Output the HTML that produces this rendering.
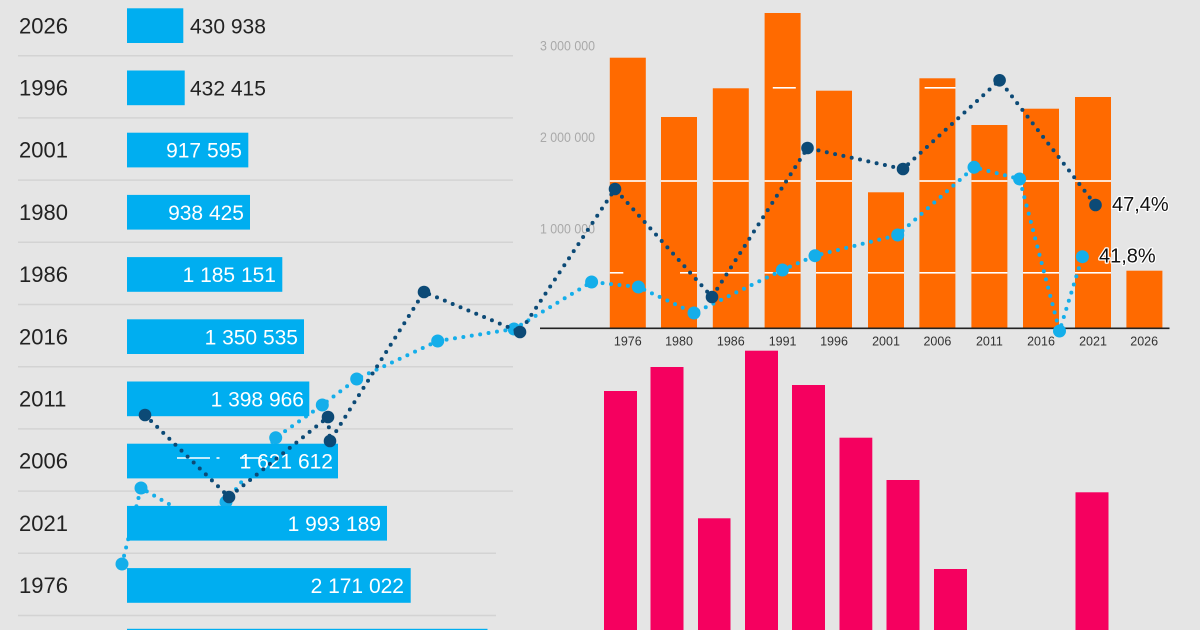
<!DOCTYPE html>
<html>
<head>
<meta charset="utf-8">
<style>
  html,body{margin:0;padding:0;background:#e5e5e5;width:1200px;height:630px;overflow:hidden;}
  svg{display:block;}
  text{font-family:"Liberation Sans", sans-serif;}
</style>
</head>
<body>
<svg width="1200" height="630" viewBox="0 0 1200 630" xmlns="http://www.w3.org/2000/svg">
  <rect x="0" y="0" width="1200" height="630" fill="#e5e5e5"/>

  <!-- left chart separators -->
  <g stroke="#d3d3d3" stroke-width="1.5">
    <line x1="18" y1="55.7" x2="513" y2="55.7"/>
    <line x1="18" y1="117.9" x2="513" y2="117.9"/>
    <line x1="18" y1="180.1" x2="513" y2="180.1"/>
    <line x1="18" y1="242.3" x2="513" y2="242.3"/>
    <line x1="18" y1="304.5" x2="513" y2="304.5"/>
    <line x1="18" y1="366.7" x2="513" y2="366.7"/>
    <line x1="18" y1="428.9" x2="513" y2="428.9"/>
    <line x1="18" y1="491.1" x2="513" y2="491.1"/>
    <line x1="18" y1="553.3" x2="496" y2="553.3"/>
    <line x1="18" y1="615.5" x2="496" y2="615.5"/>
  </g>

  <!-- orange bars -->
  <g fill="#ff6a00">
    <rect x="609.8" y="57.7" width="36" height="270.6"/>
    <rect x="661" y="117" width="36" height="211.3"/>
    <rect x="712.8" y="88.3" width="36" height="240"/>
    <rect x="764.6" y="13" width="36" height="315.3"/>
    <rect x="816" y="90.7" width="36" height="237.6"/>
    <rect x="868" y="192.3" width="36" height="136"/>
    <rect x="919.4" y="78.3" width="36" height="250"/>
    <rect x="971.4" y="125" width="36" height="203.3"/>
    <rect x="1023" y="108.7" width="36" height="219.6"/>
    <rect x="1075" y="97" width="36" height="231.3"/>
    <rect x="1126.4" y="270.7" width="36" height="57.6"/>
  </g>
  <!-- white gridline pieces over bars -->
  <g fill="#ffffff">
    <rect x="609.8" y="180.2" width="36" height="1.6"/>
    <rect x="661" y="180.2" width="36" height="1.6"/>
    <rect x="712.8" y="180.2" width="36" height="1.6"/>
    <rect x="764.6" y="180.2" width="36" height="1.6"/>
    <rect x="816" y="180.2" width="36" height="1.6"/>
    <rect x="919.4" y="180.2" width="36" height="1.6"/>
    <rect x="971.4" y="180.2" width="36" height="1.6"/>
    <rect x="1023" y="180.2" width="36" height="1.6"/>
    <rect x="1075" y="180.2" width="36" height="1.6"/>

    <rect x="609.8" y="272" width="13.5" height="1.6"/>
    <rect x="680" y="272" width="17" height="1.6"/>
    <rect x="712.8" y="272" width="36" height="1.6"/>
    <rect x="764.6" y="272" width="36" height="1.6"/>
    <rect x="816" y="272" width="36" height="1.6"/>
    <rect x="868" y="272" width="36" height="1.6"/>
    <rect x="919.4" y="272" width="36" height="1.6"/>
    <rect x="971.4" y="272" width="36" height="1.6"/>
    <rect x="1023" y="272" width="36" height="1.6"/>
    <rect x="1075" y="272" width="36" height="1.6"/>

    <rect x="772.8" y="87" width="23" height="1.6"/>
    <rect x="924.6" y="87" width="31" height="1.6"/>
  </g>

  <!-- axis -->
  <line x1="540" y1="328.3" x2="1169.5" y2="328.3" stroke="#222" stroke-width="1.6"/>

  <!-- y tick labels -->
  <g fill="#a9a9a9" font-size="14">
    <text x="540" y="50.7" textLength="55" lengthAdjust="spacingAndGlyphs">3 000 000</text>
    <text x="540" y="142" textLength="55" lengthAdjust="spacingAndGlyphs">2 000 000</text>
    <text x="540" y="233.3" textLength="55" lengthAdjust="spacingAndGlyphs">1 000 000</text>
  </g>

  <!-- x tick labels -->
  <g fill="#333" font-size="12.5" text-anchor="middle">
    <text x="627.8" y="345.5">1976</text>
    <text x="679" y="345.5">1980</text>
    <text x="730.8" y="345.5">1986</text>
    <text x="782.6" y="345.5">1991</text>
    <text x="834" y="345.5">1996</text>
    <text x="886" y="345.5">2001</text>
    <text x="937.4" y="345.5">2006</text>
    <text x="989.4" y="345.5">2011</text>
    <text x="1041" y="345.5">2016</text>
    <text x="1093" y="345.5">2021</text>
    <text x="1144.2" y="345.5">2026</text>
  </g>

  <!-- pink bars -->
  <g fill="#f5005f">
    <rect x="604" y="391" width="33" height="239"/>
    <rect x="650.5" y="367" width="33" height="263"/>
    <rect x="698" y="518.3" width="32.5" height="111.7"/>
    <rect x="745" y="350.7" width="33" height="279.3"/>
    <rect x="792" y="385" width="33" height="245"/>
    <rect x="839.5" y="437.7" width="32.8" height="192.3"/>
    <rect x="886.5" y="480" width="33" height="150"/>
    <rect x="934" y="569" width="33" height="61"/>
    <rect x="1075.5" y="492.3" width="33" height="137.7"/>
  </g>

  <!-- light blue line (behind blue bars) -->
  <polyline fill="none" stroke="#14aeea" stroke-width="4" stroke-linecap="round" stroke-linejoin="round" stroke-dasharray="0 8.5"
    points="122,564 141,488 200,522 226,502 275.7,437.7 322.3,405 356.7,379 437.7,341 514,329 591.6,282 638.4,287 694,313 782.4,270 815,255.7 897.7,235 974,167.3 1019.6,179 1059.5,331 1082.4,256.7"/>
  <g fill="#14aeea">
    <circle cx="122" cy="564" r="6.5"/>
    <circle cx="141" cy="488" r="6.5"/>
    <circle cx="226" cy="502" r="6.5"/>
    <circle cx="275.7" cy="437.7" r="6.5"/>
    <circle cx="322.3" cy="405" r="6.5"/>
    <circle cx="356.7" cy="379" r="6.5"/>
    <circle cx="437.7" cy="341" r="6.5"/>
    <circle cx="514" cy="329" r="6.5"/>
    <circle cx="591.6" cy="282" r="6.5"/>
    <circle cx="638.4" cy="287" r="6.5"/>
    <circle cx="694" cy="313" r="6.5"/>
    <circle cx="782.4" cy="270" r="6.5"/>
    <circle cx="815" cy="255.7" r="6.5"/>
    <circle cx="897.7" cy="235" r="6.5"/>
    <circle cx="974" cy="167.3" r="6.5"/>
    <circle cx="1019.6" cy="179" r="6.5"/>
    <circle cx="1059.5" cy="331" r="6.5"/>
    <circle cx="1082.4" cy="256.7" r="6.5"/>
  </g>

  <!-- left blue bars -->
  <g fill="#00aef0">
    <rect x="127" y="8.3" width="56.3" height="34.7"/>
    <rect x="127" y="70.5" width="57.7" height="34.7"/>
    <rect x="127" y="132.7" width="121.3" height="34.7"/>
    <rect x="127" y="194.9" width="123" height="34.7"/>
    <rect x="127" y="257.1" width="155.3" height="34.7"/>
    <rect x="127" y="319.3" width="177" height="34.7"/>
    <rect x="127" y="381.5" width="182.3" height="34.7"/>
    <rect x="127" y="443.7" width="211" height="34.7"/>
    <rect x="127" y="505.9" width="260" height="34.7"/>
    <rect x="127" y="568.1" width="283.7" height="34.7"/>
    <rect x="127" y="628.8" width="360.5" height="1.2"/>
  </g>

  <!-- year labels -->
  <g fill="#222" font-size="22">
    <text x="19" y="33.3">2026</text>
    <text x="19" y="95.5">1996</text>
    <text x="19" y="157.7">2001</text>
    <text x="19" y="219.9">1980</text>
    <text x="19" y="282.1">1986</text>
    <text x="19" y="344.3">2016</text>
    <text x="19" y="406.5">2011</text>
    <text x="19" y="468.7">2006</text>
    <text x="19" y="530.9">2021</text>
    <text x="19" y="593.1">1976</text>
  </g>

  <!-- value labels -->
  <g font-size="21">
    <text x="190" y="33.3" fill="#222">430 938</text>
    <text x="190" y="95.5" fill="#222">432 415</text>
    <g fill="#ffffff" text-anchor="end">
      <text x="242" y="157.7">917 595</text>
      <text x="244" y="219.9">938 425</text>
      <text x="276" y="282.1">1 185 151</text>
      <text x="298" y="344.3">1 350 535</text>
      <text x="304" y="406.5">1 398 966</text>
      <text x="333" y="468.7">1 621 612</text>
      <text x="381" y="530.9">1 993 189</text>
      <text x="404" y="593.1">2 171 022</text>
    </g>
  </g>
  <!-- white strike artifacts on 2006 bar -->
  <g stroke="#ffffff" stroke-width="1.6">
    <line x1="177" y1="458" x2="210" y2="458"/>
    <line x1="216.5" y1="458" x2="219.5" y2="458"/>
    <line x1="240" y1="458" x2="262" y2="458"/>
  </g>

  <!-- dark blue line -->
  <polyline fill="none" stroke="#0c4a76" stroke-width="4" stroke-linecap="round" stroke-linejoin="round" stroke-dasharray="0 8.5"
    points="145,415 229,497 328,417 330,441 424,292 520,332 615,189 712,297 807.5,148 903,169 999.6,80.3 1095.5,205"/>
  <g fill="#0c4a76">
    <circle cx="145" cy="415" r="6.3"/>
    <circle cx="229" cy="497" r="6.3"/>
    <circle cx="328" cy="417" r="6.3"/>
    <circle cx="330" cy="441" r="6.3"/>
    <circle cx="424" cy="292" r="6.3"/>
    <circle cx="520" cy="332" r="6.3"/>
    <circle cx="615" cy="189" r="6.3"/>
    <circle cx="712" cy="297" r="6.3"/>
    <circle cx="807.5" cy="148" r="6.3"/>
    <circle cx="903" cy="169" r="6.3"/>
    <circle cx="999.6" cy="80.3" r="6.3"/>
    <circle cx="1095.5" cy="205" r="6.3"/>
  </g>

  <!-- end labels -->
  <g font-size="20" fill="#111" stroke="#ffffff" stroke-width="2.5" paint-order="stroke" stroke-linejoin="round">
    <text x="1112" y="211">47,4%</text>
    <text x="1099" y="262.7">41,8%</text>
  </g>
</svg>
</body>
</html>
